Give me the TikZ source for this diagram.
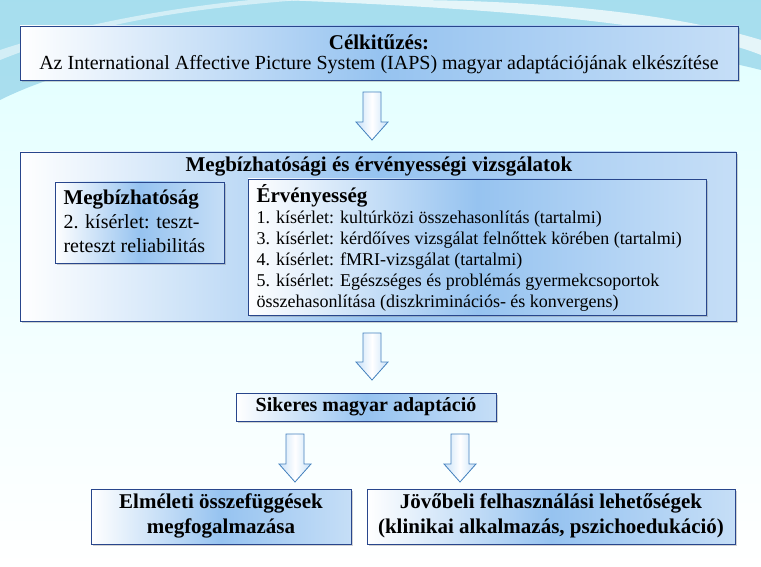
\documentclass[tikz,border=0pt]{standalone}
\usepackage{fontspec}
\setmainfont{Liberation Serif}
\usetikzlibrary{shadows}
\definecolor{bord}{RGB}{40,70,140}
\definecolor{boxblue}{RGB}{150,195,240}
\definecolor{arrblue}{RGB}{200,225,248}
\definecolor{arrbord}{RGB}{70,130,190}
\definecolor{sky}{RGB}{120,195,225}
\tikzset{
  box/.style={draw=bord,line width=0.9pt,left color=white,right color=boxblue!55,middle color=boxblue,
    drop shadow={opacity=0.35,shadow xshift=2pt,shadow yshift=-2pt},inner sep=0pt},
  darr/.style={draw=arrbord,line width=0.8pt,left color=arrblue,right color=arrblue,middle color=white,line join=miter},
  txt/.style={font=\fontsize{20}{23}\selectfont,align=center},
  btxt/.style={font=\fontsize{21}{25}\selectfont\bfseries,align=center},
}
\newcommand{\myarrow}[3]{%
  \path[darr] (#1-9,#2) -- (#1+9,#2) -- (#1+9,#3-18) -- (#1+16,#3-18) -- (#1,#3) -- (#1-16,#3-18) -- (#1-9,#3-18) -- cycle;}
\begin{document}
\begin{tikzpicture}[x=1pt,y=-1pt]
\useasboundingbox (0,0) rectangle (761,567);
\fill[top color=white!88!cyan,bottom color=white] (0,0) rectangle (761,567);
\fill[sky,opacity=0.55] (0,0) -- (0,100) .. controls (150,25) and (500,5) .. (761,70) -- (761,0) -- cycle;
\fill[white,opacity=0.7] (280,0) .. controls (550,10) and (700,30) .. (761,55) -- (761,40) .. controls (680,15) and (550,0) .. (400,0) -- cycle;
\fill[white,opacity=0.5] (0,60) .. controls (100,20) and (200,8) .. (300,0) -- (250,0) .. controls (150,10) and (60,30) .. (0,50) -- cycle;
% boxes
\path[box] (20,26) rectangle (738,80);
\node[btxt] (t1) at (379,42) {Célkitűzés:};
\node[txt] (t2) at (379,65) {Az International Affective Picture System (IAPS) magyar adaptációjának elkészítése};
\myarrow{372}{92}{140}
\path[box] (20,152) rectangle (736,321);
\node[btxt] (t3) at (379,167) {Megbízhatósági és érvényességi vizsgálatok};
\path[box] (55,182) rectangle (224,263);
\node[font=\fontsize{20}{24}\selectfont,align=left,anchor=north west] (m) at (60,186)
 {{\fontsize{21}{24}\selectfont\bfseries Megbízhatóság}\\2. kísérlet: teszt-\\reteszt reliabilitás};
\path[box] (248,179) rectangle (706,315);
\node[font=\fontsize{18}{21}\selectfont,align=left,anchor=north west] (e) at (253,181)
 {{\fontsize{21}{24}\selectfont\bfseries Érvényesség}\\
 1. kísérlet: kultúrközi összehasonlítás (tartalmi)\\
 3. kísérlet: kérdőíves vizsgálat felnőttek körében (tartalmi)\\
 4. kísérlet: fMRI-vizsgálat (tartalmi)\\
 5. kísérlet: Egészséges és problémás gyermekcsoportok\\
 összehasonlítása (diszkriminációs- és konvergens)};
\myarrow{372}{333}{380}
\path[box] (236,393) rectangle (496,421);
\node[btxt,font=\fontsize{20}{24}\selectfont\bfseries] (s) at (366,407) {Sikeres magyar adaptáció};
\myarrow{295}{434}{482}
\myarrow{460}{434}{482}
\path[box] (91,489) rectangle (351,544);
\node[btxt] (el) at (221,516) {Elméleti összefüggések\\megfogalmazása};
\path[box] (367,489) rectangle (735,544);
\node[btxt] (jo) at (551,516) {Jövőbeli felhasználási lehetőségek\\(klinikai alkalmazás, pszichoedukáció)};
\end{tikzpicture}
\end{document}
